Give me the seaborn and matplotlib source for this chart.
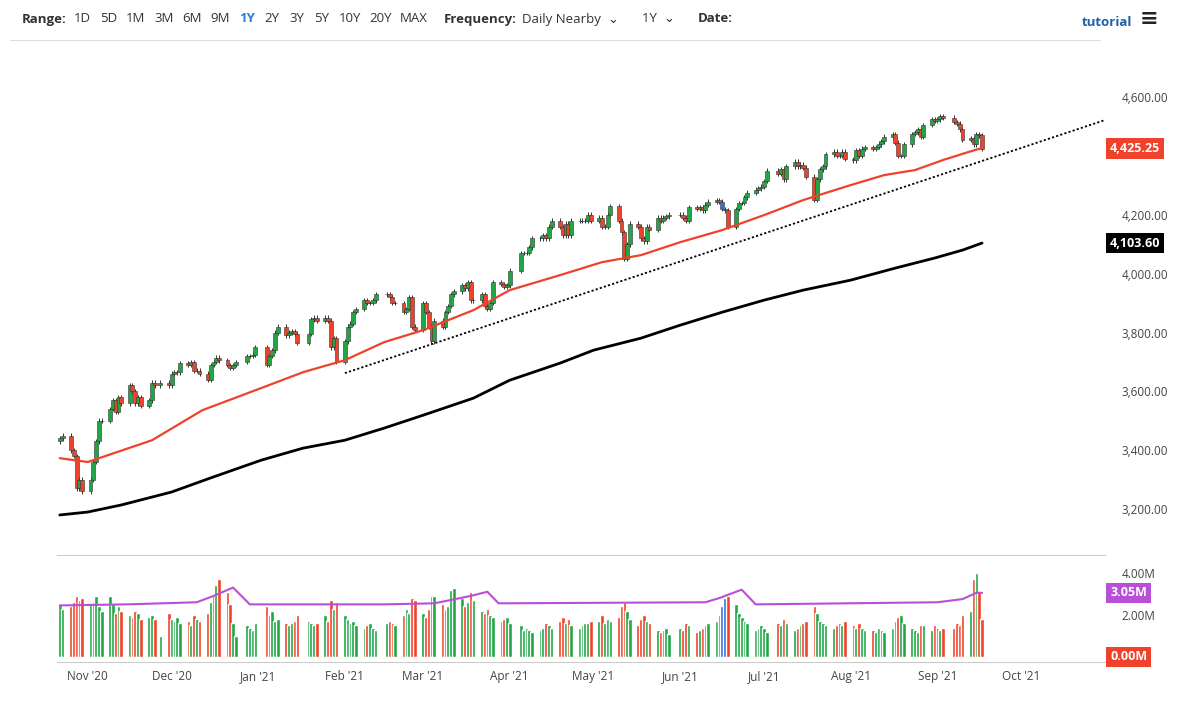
import pandas as pd
import numpy as np
import matplotlib.pyplot as plt
import matplotlib.dates as mdates
import seaborn as sns

# --- DATA ---
closes = [3440, 3450, 3400, 3380, 3270, 3300, 3260,
          3300, 3360, 3430, 3500, 3500,
          3540, 3570, 3530, 3580, 3560,
          3620, 3600, 3560, 3580, 3550,
          3570, 3630, 3620, 3630,
          3620, 3660, 3665, 3665, 3695,
          3690, 3700, 3670, 3670, 3660,
          3640, 3690, 3700, 3715, 3705,
          3690, 3680, 3690, 3700,
          3720, 3720, 3725, 3750,
          3690, 3720, 3740, 3800, 3820,
          3790, 3800, 3805, 3795, 3765,
          3795, 3845, 3850, 3840,
          3850, 3840, 3750, 3780, 3700,
          3770, 3820, 3830, 3870, 3880,
          3910, 3900, 3900, 3910, 3930,
          3930, 3920, 3900, 3900,
          3870, 3880, 3920, 3820, 3810,
          3900, 3870, 3820, 3770, 3840,
          3820, 3870, 3890, 3930, 3940,
          3960, 3950, 3970, 3910, 3910,
          3930, 3890, 3880, 3900, 3970,
          3965, 3955, 3960, 4010,
          4070, 4070, 4070, 4090, 4120,
          4120, 4130, 4120, 4160, 4180,
          4160, 4130, 4170, 4130, 4180,
          4180, 4180, 4180, 4200, 4180,
          4190, 4160, 4160, 4200, 4230,
          4180, 4140, 4050, 4100, 4170,
          4160, 4120, 4110, 4160, 4150,
          4190, 4180, 4190, 4195, 4200,
          4200, 4190, 4180, 4225,
          4220, 4225, 4215, 4235, 4245,
          4250, 4245, 4220, 4215, 4160,
          4220, 4240, 4240, 4260, 4275,
          4285, 4290, 4295, 4315, 4350,
          4340, 4355, 4320, 4365,
          4380, 4365, 4370, 4360, 4330,
          4250, 4320, 4355, 4365, 4405,
          4415, 4400, 4400, 4415, 4390,
          4385, 4420, 4400, 4425, 4430,
          4425, 4430, 4440, 4450, 4465,
          4475, 4445, 4400, 4400, 4440,
          4475, 4480, 4490, 4465, 4505,
          4525, 4520, 4525, 4535, 4530,
          4515, 4510, 4490, 4455,
          4460, 4440, 4475, 4470, 4425]
first_open = 3430

volumes = [2.5, 2.3, 2.4, 2.6, 2.9, 2.7, 2.8,
           2.5, 2.6, 2.9, 2.4, 2.2,
           2.9, 2.5, 2.1, 2.4, 2.2,
           2.0, 1.9, 2.2, 2.1, 1.8,
           1.9, 2.0, 1.8, 1.0,
           2.1, 1.8, 1.7, 1.9, 1.6,
           1.7, 1.5, 2.0, 1.8, 1.7,
           2.1, 2.6, 3.0, 3.4, 3.7,
           3.1, 2.5, 1.6, 1.0,
           1.5, 1.4, 1.3, 1.6,
           2.4, 2.0, 2.2, 1.7, 1.8,
           1.6, 1.5, 1.6, 1.7, 2.0,
           1.7, 1.6, 1.5, 1.6,
           2.0, 1.7, 2.7, 2.3, 2.6,
           2.0, 1.8, 1.6, 1.7, 1.5,
           1.4, 1.5, 1.6, 1.4, 1.3,
           1.6, 1.7, 1.6, 1.5,
           2.0, 2.3, 2.1, 2.8, 2.7,
           2.1, 1.9, 2.3, 2.9, 2.9,
           2.5, 2.3, 2.4, 3.2, 3.3,
           2.8, 2.4, 2.6, 3.1, 2.7,
           2.2, 2.1, 2.3, 2.0, 1.9,
           1.7, 1.8, 1.9, 1.6,
           1.5, 1.3, 1.4, 1.3, 1.2,
           1.3, 1.4, 1.6, 1.5, 1.4,
           1.7, 1.9, 1.6, 1.8, 1.5,
           1.4, 1.5, 1.6, 1.6, 1.7,
           1.7, 2.0, 1.6, 1.8, 1.7,
           1.9, 2.4, 2.6, 2.2, 1.8,
           1.5, 1.8, 2.0, 1.7, 1.6,
           1.3, 1.2, 1.3, 1.4, 1.1,
           1.4, 1.3, 1.6, 1.5,
           1.2, 1.3, 1.4, 1.5, 1.6,
           1.7, 2.0, 2.4, 2.8, 2.9,
           2.5, 2.1, 1.9, 1.7, 1.6,
           1.3, 1.4, 1.5, 1.4, 1.2,
           1.6, 1.5, 1.8, 1.6,
           1.3, 1.4, 1.5, 1.6, 1.7,
           2.4, 2.1, 1.7, 1.6, 1.5,
           1.4, 1.5, 1.6, 1.5, 1.7,
           1.5, 1.4, 1.6, 1.4, 1.3,
           1.3, 1.2, 1.4, 1.3, 1.2,
           1.4, 1.7, 1.9, 2.0, 1.6,
           1.4, 1.3, 1.2, 1.5, 1.5,
           1.3, 1.5, 1.4, 1.3, 1.4,
           1.4, 1.6, 1.5, 2.0,
           2.2, 3.7, 4.0, 3.1, 1.8]
blue_days = ['2021-06-16', '2021-06-17']

holidays = ['2020-11-26', '2020-12-25', '2021-01-01', '2021-01-18', '2021-02-15',
            '2021-04-02', '2021-05-31', '2021-07-05', '2021-09-06']

ma50_dates = ['2020-10-22', '2020-11-01', '2020-11-24', '2020-12-12', '2021-01-02', '2021-01-17',
              '2021-02-01', '2021-02-15', '2021-03-01', '2021-03-19', '2021-04-01', '2021-04-19',
              '2021-05-04', '2021-05-18', '2021-06-01', '2021-06-16', '2021-07-01', '2021-07-15',
              '2021-08-01', '2021-08-13', '2021-08-24', '2021-09-03', '2021-09-12', '2021-09-17']
ma50_vals = [3373, 3360, 3434, 3536, 3611, 3665, 3706, 3767, 3808, 3876, 3944, 3995,
             4039, 4063, 4107, 4148, 4199, 4250, 4301, 4335, 4352, 4386, 4413, 4427]

ma200_dates = ['2020-10-22', '2020-11-01', '2020-11-13', '2020-12-01', '2020-12-15', '2021-01-02',
               '2021-01-17', '2021-02-01', '2021-02-15', '2021-03-01', '2021-03-19', '2021-04-01',
               '2021-04-19', '2021-05-01', '2021-05-18', '2021-06-01', '2021-06-16', '2021-07-01',
               '2021-07-15', '2021-08-01', '2021-08-17', '2021-08-31', '2021-09-10', '2021-09-17']
ma200_vals = [3180, 3190, 3214, 3258, 3306, 3366, 3407, 3434, 3475, 3519, 3577, 3638,
              3696, 3740, 3781, 3825, 3869, 3910, 3944, 3978, 4019, 4053, 4080, 4104]

trend_dates = ['2021-02-01', '2021-10-31']
trend_vals = [3662, 4522]

vavg_dates = ['2020-10-22', '2020-11-15', '2020-12-10', '2020-12-16', '2020-12-23', '2020-12-29',
              '2021-02-15', '2021-03-05', '2021-03-18', '2021-03-24', '2021-03-28', '2021-06-10',
              '2021-06-15', '2021-06-23', '2021-06-28', '2021-09-01', '2021-09-10', '2021-09-15',
              '2021-09-17']
vavg_vals = [2.45, 2.5, 2.6, 2.9, 3.3, 2.5, 2.5, 2.55, 2.9, 3.1, 2.55, 2.6, 2.8, 3.2, 2.5, 2.6,
             2.75, 3.05, 3.05]

# --- FRAME ---
dates = pd.bdate_range('2020-10-22', periods=len(closes), freq='C', holidays=holidays)
df = pd.DataFrame({'date': dates, 'close': closes, 'volume': volumes})
df['open'] = [first_open] + closes[:-1]
GREEN, RED = '#1fa745', '#f0412a'
df['color'] = np.where(df['close'] >= df['open'], GREEN, RED)
df.loc[df['date'].isin(pd.to_datetime(blue_days)), 'color'] = '#3b6fd6'

sns.set_style('white')
plt.rcParams['font.family'] = ['Open Sans', 'DejaVu Sans']

W, H = 1177, 701
fig = plt.figure(figsize=(W / 100, H / 100), dpi=100)
ax = fig.add_axes([57 / W, 1 - 555 / H, (1105 - 57) / W, (555 - 40) / H])
axv = fig.add_axes([57 / W, 1 - 662 / H, (1105 - 57) / W, (662 - 556) / H], sharex=ax)

x0, x1 = pd.Timestamp('2020-10-21'), pd.Timestamp('2021-10-31')

# candles
lo = np.minimum(df['open'], df['close'])
hi = np.maximum(df['open'], df['close'])
ax.vlines(df['date'], lo - 8, hi + 8, color='#333333', linewidth=0.7, zorder=2)
ax.bar(df['date'], hi - lo, bottom=lo, width=1.4, color=df['color'], edgecolor='#333333', linewidth=0.4, zorder=3)

ma50 = pd.DataFrame({'date': pd.to_datetime(ma50_dates), 'v': ma50_vals})
ma200 = pd.DataFrame({'date': pd.to_datetime(ma200_dates), 'v': ma200_vals})
sns.lineplot(data=ma50, x='date', y='v', ax=ax, color='#f0412a', linewidth=1.6, zorder=4)
sns.lineplot(data=ma200, x='date', y='v', ax=ax, color='black', linewidth=2, zorder=4)
ax.plot(pd.to_datetime(trend_dates), trend_vals, color='black', linestyle=(0, (1.2, 1.2)), linewidth=1.3, zorder=5)

ax.set_xlim(x0, x1)
ax.set_ylim(3044, 4794)
ax.yaxis.tick_right()
yt = [3200, 3400, 3600, 3800, 4000, 4200, 4600]
ax.set_yticks(yt)
ax.set_yticklabels([f'{v:,.2f}' for v in yt])
ax.set_xlabel('')
ax.set_ylabel('')
ax.tick_params(axis='y', labelsize=8.5, colors='#444444', length=0, pad=12)
ax.tick_params(axis='x', labelbottom=False, length=0)
for s in ['top', 'left', 'right']:
    ax.spines[s].set_visible(False)
ax.spines['bottom'].set_color('#cccccc')

box = dict(boxstyle='square,pad=0.3', linewidth=0)
ax.text(1.005, 4425.25, '4,425.25', transform=ax.get_yaxis_transform(), va='center', ha='left',
        fontsize=9, fontweight='bold', color='white', bbox=dict(box, facecolor=RED))
ax.text(1.005, 4103.60, '4,103.60', transform=ax.get_yaxis_transform(), va='center', ha='left',
        fontsize=9, fontweight='bold', color='white', bbox=dict(box, facecolor='black'))

# volume
axv.bar(df['date'], df['volume'], width=1.3, color=df['color'], zorder=3)
vavg = pd.DataFrame({'date': pd.to_datetime(vavg_dates), 'v': vavg_vals})
sns.lineplot(data=vavg, x='date', y='v', ax=axv, color='#b84fd6', linewidth=1.5, zorder=4)
axv.set_ylim(-0.24, 4.8)
axv.yaxis.tick_right()
axv.set_yticks([2, 4])
axv.set_yticklabels(['2.00M', '4.00M'])
axv.tick_params(axis='y', labelsize=8.5, colors='#444444', length=0, pad=12)
axv.set_xlabel('')
axv.set_ylabel('')
for s in ['top', 'left', 'right']:
    axv.spines[s].set_visible(False)
axv.spines['bottom'].set_color('#cccccc')
axv.text(1.005, 3.05, '3.05M', transform=axv.get_yaxis_transform(), va='center', ha='left',
         fontsize=9, fontweight='bold', color='white', bbox=dict(box, facecolor='#b84fd6'))
axv.text(1.005, 0.0, '0.00M', transform=axv.get_yaxis_transform(), va='center', ha='left',
         fontsize=9, fontweight='bold', color='white', bbox=dict(box, facecolor=RED))

axv.xaxis.set_major_locator(mdates.MonthLocator())
axv.xaxis.set_major_formatter(mdates.DateFormatter("%b '%y"))
axv.tick_params(axis='x', labelsize=8.5, colors='#444444', length=0, pad=6)
axv.set_xlim(x0, x1)

# top toolbar
fig.add_artist(plt.Line2D([10 / W, 1100 / W], [1 - 40 / H, 1 - 40 / H], color='#dddddd', linewidth=0.8))
ty = 1 - 19 / H
fig.text(22 / W, ty, 'Range:', fontsize=9.5, fontweight='bold', color='#333333', va='center')
for lab, px in zip(['1D', '5D', '1M', '3M', '6M', '9M', '1Y', '2Y', '3Y', '5Y', '10Y', '20Y', 'MAX'],
                   [74, 100, 126, 154, 182, 210, 239, 264, 289, 314, 339, 369, 400]):
    fig.text(px / W, ty, lab, fontsize=9.5, color='#2a7fd4' if lab == '1Y' else '#333333',
             fontweight='bold' if lab == '1Y' else 'normal', va='center')
fig.text(444 / W, ty, 'Frequency:', fontsize=9.5, fontweight='bold', color='#333333', va='center')
fig.text(522 / W, ty, 'Daily Nearby  \u2304', fontsize=9.5, color='#333333', va='center')
fig.text(642 / W, ty, '1Y  \u2304', fontsize=9.5, color='#333333', va='center')
fig.text(698 / W, ty, 'Date:', fontsize=9.5, fontweight='bold', color='#333333', va='center')
fig.text(1082 / W, ty - 0.005, 'tutorial', fontsize=9.5, fontweight='bold', color='#1f5fa8', va='center')
fig.text(1140 / W, ty, '\u2261', fontsize=16, fontweight='bold', color='#222222', va='center')

plt.savefig('out.png', dpi=100)
